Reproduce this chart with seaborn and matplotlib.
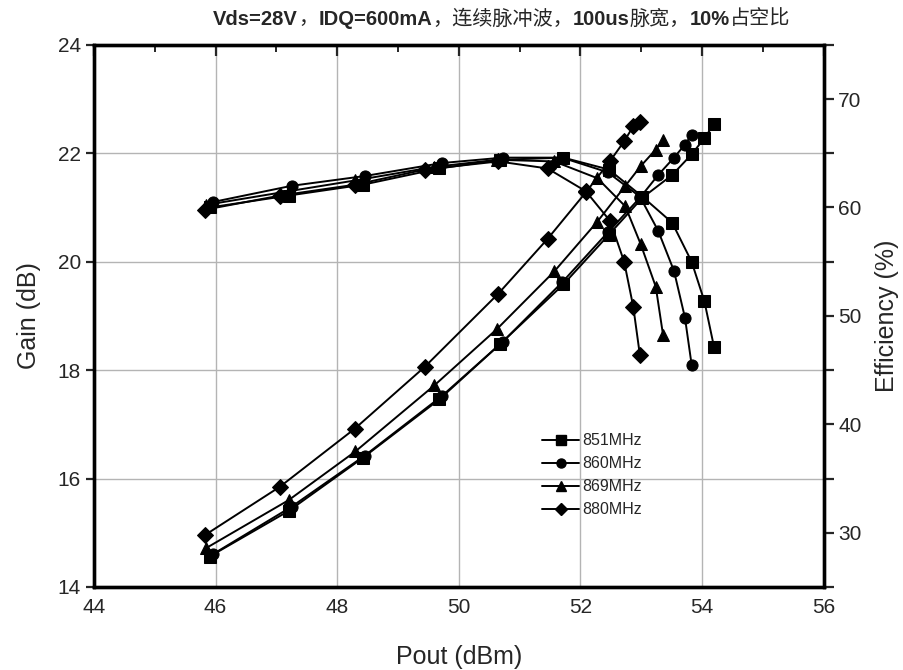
import matplotlib
matplotlib.use("Agg")
import matplotlib.pyplot as plt
from matplotlib.lines import Line2D
from matplotlib.ticker import MultipleLocator
import seaborn as sns
import pandas as pd

# series: Pout (dBm), Gain (dB), Efficiency (%)
freqs = ["851MHz", "860MHz", "869MHz", "880MHz"]
marker_map = {"851MHz": "s", "860MHz": "o", "869MHz": "^", "880MHz": "D"}

pout_851 = [45.90, 47.20, 48.42, 49.68, 50.68, 51.72, 52.47, 53.02, 53.51, 53.83, 54.04, 54.20]
gain_851 = [21.00, 21.22, 21.42, 21.72, 21.88, 21.92, 21.70, 21.20, 20.72, 20.00, 19.27, 18.42]
eff_851 = [27.8, 32.0, 36.9, 42.3, 47.4, 52.9, 57.5, 60.9, 63.0, 64.9, 66.4, 67.7]

pout_860 = [45.95, 47.25, 48.45, 49.72, 50.72, 51.70, 52.45, 52.98, 53.28, 53.54, 53.72, 53.83]
gain_860 = [21.10, 21.40, 21.58, 21.82, 21.92, 21.92, 21.65, 21.20, 20.57, 19.83, 18.97, 18.10]
eff_860 = [28.0, 32.4, 37.1, 42.6, 47.6, 53.1, 57.7, 60.9, 63.0, 64.6, 65.8, 66.7]

pout_869 = [45.85, 47.20, 48.30, 49.60, 50.63, 51.57, 52.28, 52.74, 52.99, 53.24, 53.36]
gain_869 = [21.05, 21.30, 21.50, 21.75, 21.88, 21.85, 21.54, 21.02, 20.33, 19.54, 18.65]
eff_869 = [28.6, 33.0, 37.5, 43.6, 48.8, 54.1, 58.7, 62.0, 63.8, 65.35, 66.2]

pout_880 = [45.83, 47.06, 48.29, 49.44, 50.65, 51.46, 52.09, 52.49, 52.72, 52.87, 52.98]
gain_880 = [20.96, 21.22, 21.42, 21.70, 21.85, 21.72, 21.30, 20.75, 20.00, 19.17, 18.27]
eff_880 = [29.8, 34.25, 39.6, 45.3, 52.05, 57.1, 61.4, 64.3, 66.1, 67.5, 67.9]

frames = []
for f, p, g, e in zip(freqs,
                      [pout_851, pout_860, pout_869, pout_880],
                      [gain_851, gain_860, gain_869, gain_880],
                      [eff_851, eff_860, eff_869, eff_880]):
    frames.append(pd.DataFrame({"pout": p, "gain": g, "eff": e, "freq": f}))
df = pd.concat(frames, ignore_index=True)

sns.set_style("ticks")
plt.rcParams["font.family"] = ["Liberation Sans", "DejaVu Sans"]

fig = plt.figure(figsize=(9.04, 6.70), dpi=100)
ax = fig.add_axes([0.104, 0.124, 0.807, 0.809])
ax2 = ax.twinx()

line_kw = dict(hue="freq", style="freq", markers=marker_map, dashes=False,
               palette=["black"] * 4, estimator=None, sort=False, legend=False,
               lw=1.4, markersize=8, markeredgecolor="black")
sns.lineplot(data=df, x="pout", y="gain", ax=ax, **line_kw)
sns.lineplot(data=df, x="pout", y="eff", ax=ax2, **line_kw)

ax.set_xlim(44, 56)
ax.set_ylim(14, 24)
ax2.set_ylim(25, 75)
ax.xaxis.set_major_locator(MultipleLocator(2))
ax.xaxis.set_minor_locator(MultipleLocator(1))
ax.yaxis.set_major_locator(MultipleLocator(2))
ax2.yaxis.set_major_locator(MultipleLocator(10))
ax2.yaxis.set_minor_locator(MultipleLocator(5))

ax.grid(True, which="major", color="#b4b4b4", lw=1.0)
ax.set_axisbelow(True)

ax.tick_params(axis="x", which="major", bottom=False, top=True, direction="in",
               length=8, width=1.6, labelsize=15, pad=8)
ax.tick_params(axis="x", which="minor", bottom=False, top=True, direction="in",
               length=5, width=1.4)
ax.tick_params(axis="y", which="major", direction="out", length=6, width=1.6, labelsize=15)
ax2.tick_params(axis="y", which="both", direction="out", length=7, width=1.6, labelsize=15)

for a in (ax, ax2):
    for s in a.spines.values():
        s.set_linewidth(2.4)
        s.set_color("black")

ax.set_xlabel("Pout (dBm)", fontsize=18, labelpad=20)
ax.set_ylabel("Gain (dB)", fontsize=18, labelpad=12)
ax2.set_ylabel("Efficiency (%)", fontsize=18, labelpad=10)

handles = [Line2D([], [], color="black", marker=marker_map[f], lw=1.4, markersize=6.5)
           for f in freqs]
ax2.legend(handles, freqs, loc="upper left", bbox_to_anchor=(0.595, 0.31),
           frameon=False, fontsize=11.5, handlelength=2.3, labelspacing=0.5,
           handletextpad=0.2)

# title with bold latin parts and regular Chinese parts
parts = [("Vds=28V", "bold"), ("，", "normal"), ("IDQ=600mA", "bold"),
         ("，连续脉冲波，", "normal"), ("100us", "bold"), ("脉宽，", "normal"),
         ("10%", "bold"), ("占空比", "normal")]
prev = None
for txt, w in parts:
    fam = ["Liberation Sans", "DejaVu Sans"] if w == "bold" else ["Noto Sans CJK SC", "DejaVu Sans"]
    if prev is None:
        prev = fig.text(0.236, 0.962, txt, fontsize=14.5, weight=w, family=fam,
                        ha="left", va="baseline")
    else:
        prev = ax.annotate(txt, xy=(1, 0), xycoords=prev, fontsize=14.5, weight=w,
                           family=fam, ha="left", va="bottom", annotation_clip=False)

fig.savefig("out.png", dpi=100)
